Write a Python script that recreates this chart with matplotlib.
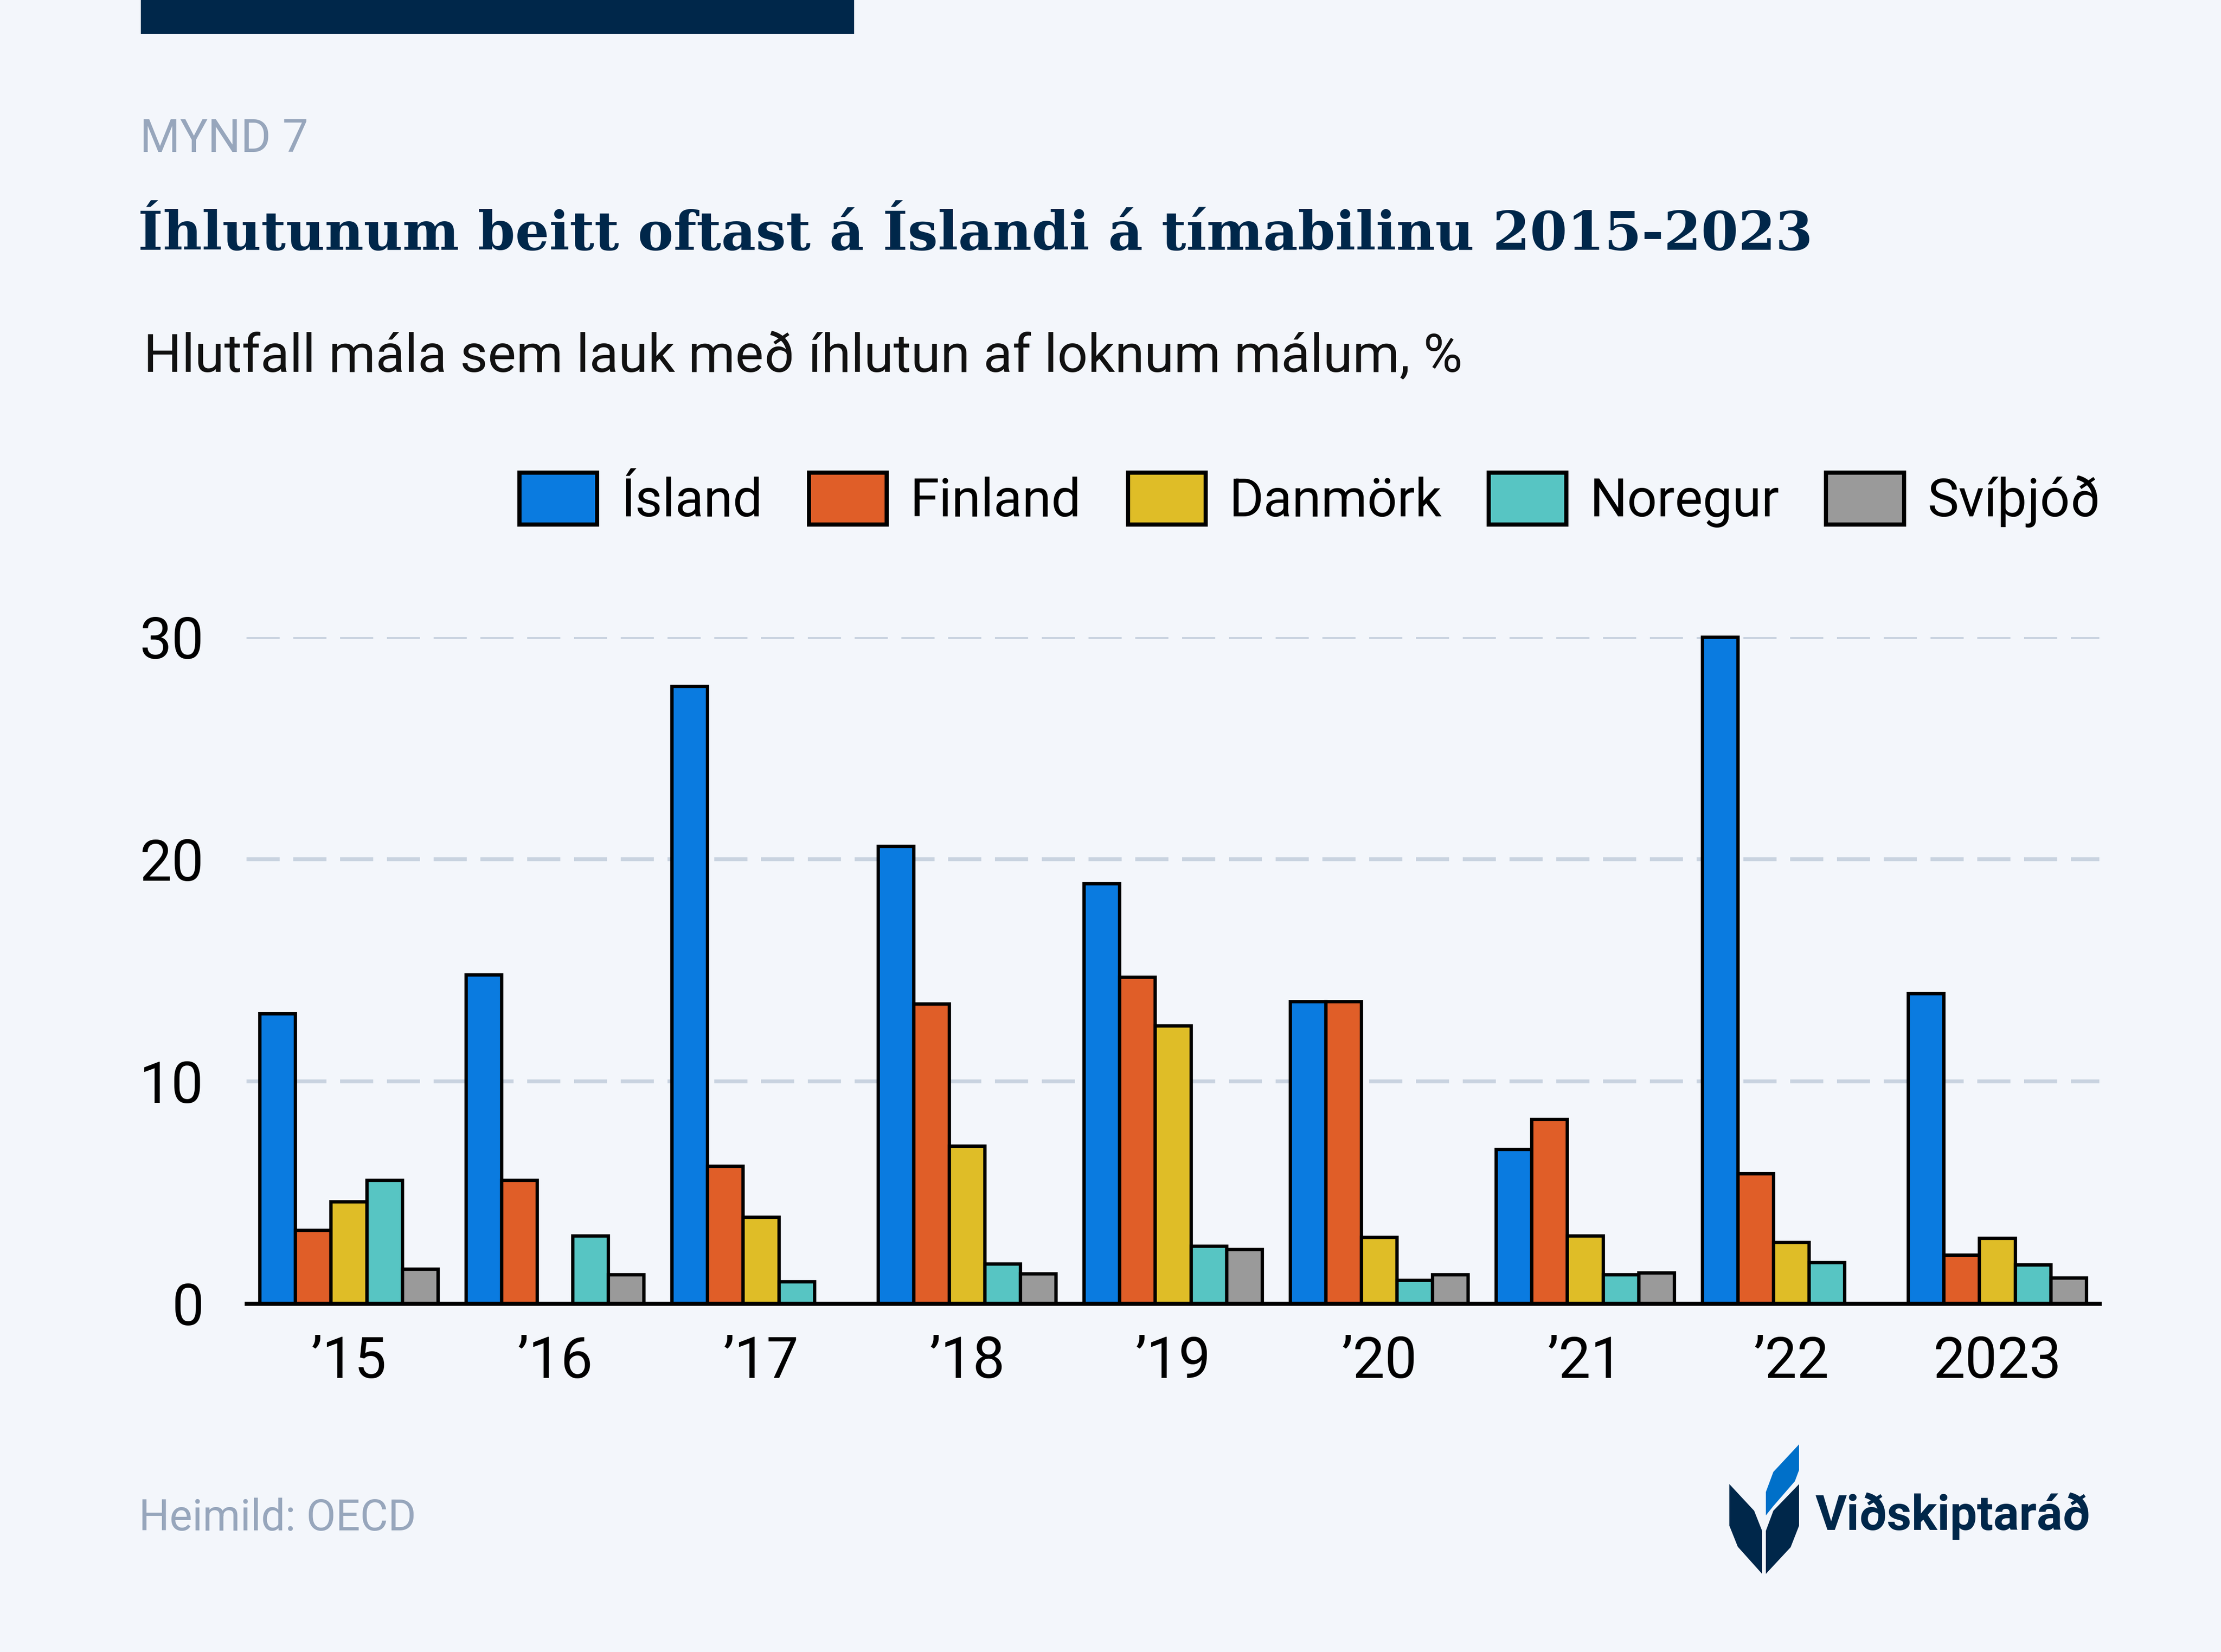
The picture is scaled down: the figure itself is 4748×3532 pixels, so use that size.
import numpy as np
import matplotlib
matplotlib.use("Agg")
import matplotlib.pyplot as plt
from matplotlib.patches import Rectangle, Polygon

# data (% of closed cases ending with intervention)
years = ["\u201915", "\u201916", "\u201917", "\u201918", "\u201919", "\u201920", "\u201921", "\u201922", "2023"]
countries = ["Ísland", "Finland", "Danmörk", "Noregur", "Svíþjóð"]
island = [13.05, 14.8, 27.8, 20.6, 18.9, 13.6, 6.95, 30.0, 13.95]
finland = [3.3, 5.55, 6.2, 13.5, 14.7, 13.6, 8.3, 5.85, 2.2]
danmork = [4.6, np.nan, 3.9, 7.1, 12.5, 3.0, 3.05, 2.75, 2.95]
noregur = [5.55, 3.05, 1.0, 1.8, 2.6, 1.05, 1.3, 1.85, 1.75]
svithjod = [1.55, 1.3, np.nan, 1.35, 2.45, 1.3, 1.4, np.nan, 1.15]
yticks = [0, 10, 20, 30]

colors = ["#0A7BE0", "#E05E28", "#DFBD27", "#57C5C3", "#9A9A9A"]
BG = "#F3F6FB"
NAVY = "#00274A"
GREY = "#97A6BC"

plt.rcParams["font.family"] = ["Roboto", "DejaVu Sans"]

W, H = 4748, 3532
DPI = 200
fig = plt.figure(figsize=(W / DPI, H / DPI), dpi=DPI, facecolor=BG)

# top bar
fig.patches.append(Rectangle((302 / W, 1 - 71 / H), (1824 - 302) / W, 71 / H,
                             transform=fig.transFigure, color=NAVY, zorder=5))

fig.text(299 / W, 1 - 325 / H, "MYND 7", fontsize=35.5, color=GREY, va="baseline")
fig.text(295 / W, 1 - 534 / H, "Íhlutunum beitt oftast á Íslandi á tímabilinu 2015-2023",
         fontsize=41.2, fontweight="bold", family=["DejaVu Serif"], color=NAVY, va="baseline")
fig.text(307 / W, 1 - 796 / H, "Hlutfall mála sem lauk með íhlutun af loknum málum, %",
         fontsize=41.2, color="#111111", va="baseline")
fig.text(297 / W, 1 - 3272 / H, "Heimild: OECD", fontsize=33, color=GREY, va="baseline")

ax = fig.add_axes([527 / W, 1 - 2787 / H, (4488 - 527) / W, (2787 - 1362) / H])
ax.set_facecolor(BG)

series = [island, finland, danmork, noregur, svithjod]
x = np.arange(len(years))
bw = 0.1727
bars = []
for j, (vals, c, name) in enumerate(zip(series, colors, countries)):
    b = ax.bar(x + (j - 2) * bw, vals, width=bw, color=c, edgecolor="black",
               linewidth=2.6, label=name, zorder=3, clip_on=False)
    bars.append(b)

ax.set_xlim(-0.496, 8.496)
ax.set_ylim(0, 30)
ax.set_yticks(yticks)
ax.set_xticks(x)
ax.set_xticklabels(years)
ax.tick_params(axis="both", length=0, labelsize=44, colors="black")
ax.tick_params(axis="y", pad=33)
ax.tick_params(axis="x", pad=24)
for s in ax.spines.values():
    s.set_visible(False)

for yv in yticks[1:]:
    gl = ax.axhline(yv, color="#C9D3E0", lw=3.0, zorder=1)
    gl.set_dashes((8.5, 3.5))
ax.axhline(0, color="black", lw=3.2, zorder=4, clip_on=False)

leg = fig.legend(handles=bars, labels=countries, loc="center right",
                 bbox_to_anchor=(4491 / W, 1 - 1069 / H), ncol=5, frameon=False,
                 fontsize=40.5, handlelength=1.48, handleheight=1.14,
                 handletextpad=0.45, columnspacing=0.88, borderpad=0, borderaxespad=0)
for h in leg.legend_handles:
    h.set_linewidth(3.2)

# logo
def P(px, py):
    return (px / W, 1 - py / H)

left_leaf = [P(3697, 3173), P(3750, 3230), P(3767, 3273), P(3767, 3365), P(3715, 3307), P(3697, 3262)]
right_leaf = [P(3846, 3173), P(3791, 3230), P(3775, 3273), P(3775, 3365), P(3828, 3308), P(3846, 3262)]
blue_leaf = [P(3846, 3088), P(3846, 3143), P(3837, 3167), P(3791, 3220), P(3775, 3240),
             P(3775, 3190), P(3791, 3147)]
for pts, c in [(left_leaf, NAVY), (right_leaf, NAVY), (blue_leaf, "#0070C9")]:
    fig.patches.append(Polygon(pts, closed=True, transform=fig.transFigure, color=c, lw=0))
fig.text(3881 / W, 1 - 3271 / H, "Viðskiptaráð", fontsize=37, fontweight="bold",
         color=NAVY, va="baseline")

fig.savefig("out.png", dpi=DPI, facecolor=BG)
